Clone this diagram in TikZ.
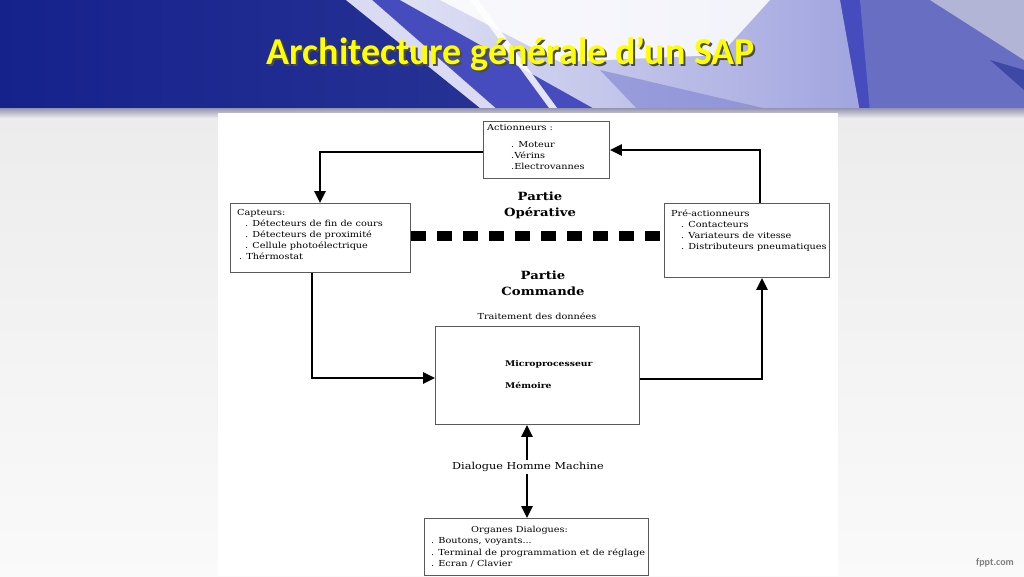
\documentclass[tikz,border=0pt]{standalone}
\usepackage{fontspec}
\setmainfont[FakeStretch=1.17]{DejaVu Serif}
\newfontfamily\titlefont{Carlito}
\usetikzlibrary{arrows.meta}
\definecolor{bandark}{RGB}{22,34,140}
\definecolor{banmid}{RGB}{70,76,190}
\definecolor{banlight}{RGB}{232,233,248}
\definecolor{banright}{RGB}{110,118,196}
\definecolor{titleyellow}{RGB}{255,255,0}
\definecolor{boxline}{RGB}{90,90,90}
\tikzset{
  box/.style={draw=boxline, line width=0.9pt, fill=white},
  flow/.style={line width=2.6pt, -{Triangle[length=12pt,width=11pt]}},
  txt/.style={inner sep=0pt, anchor=north west, align=left, font=\fontsize{8.3}{11}\selectfont},
  bold/.style={inner sep=0pt, align=center, font=\fontsize{11.3}{16}\selectfont\bfseries},
}
\begin{document}
\begin{tikzpicture}[x=1pt,y=-1pt]
\useasboundingbox (0,0) rectangle (1024,576);
% background
\fill[top color=white!85!gray, bottom color=white!96!gray] (0,112) rectangle (1024,576);
% banner
\shade[left color=bandark, right color=bandark!85!white] (0,0) rectangle (1024,112);
\fill[banmid] (346,0) -- (1024,0) -- (1024,112) -- (485,112) -- cycle;
\shade[left color=banlight, right color=banlight!60!banmid, opacity=0.95] (400,0) -- (840,0) -- (860,112) -- (600,112) -- cycle;
\fill[white, opacity=0.85] (440,0) -- (770,0) -- (720,55) -- (560,62) -- cycle;
\fill[banmid!70!white, opacity=0.6] (600,70) -- (780,112) -- (640,112) -- cycle;
\fill[white, opacity=0.8] (346,0) -- (372,0) -- (500,112) -- (485,112) -- cycle;
\fill[white, opacity=0.85] (470,0) -- (478,0) -- (560,112) -- (552,112) -- cycle;
\fill[banright, opacity=0.85] (860,0) -- (1024,0) -- (1024,112) -- (870,112) -- cycle;
\fill[white!80!gray, opacity=0.6] (930,0) -- (1024,0) -- (1024,60) -- cycle;
\fill[bandark, opacity=0.5] (990,60) -- (1024,70) -- (1024,90) -- cycle;
\shade[top color=white!70!blue!40!gray, bottom color=white!85!gray] (0,108) rectangle (1024,118);
% title (with shadow, one node)
\node[font=\titlefont\fontsize{38}{42}\selectfont\bfseries, inner sep=0pt] (title) at (511,55)
  {\makebox[0pt][l]{\hspace{1.8pt}\raisebox{-1.8pt}{\color{black!70}Architecture générale d’un SAP}}\textcolor{titleyellow}{Architecture générale d’un SAP}};
% white panel
\fill[white] (218,113) rectangle (838,576);
% boxes
\node[box, minimum width=126pt, minimum height=57pt, anchor=north west] (act) at (483,121) {};
\node[box, minimum width=180pt, minimum height=69pt, anchor=north west] (capt) at (230,203) {};
\node[box, minimum width=165pt, minimum height=74pt, anchor=north west] (pre) at (664,203) {};
\node[box, minimum width=204pt, minimum height=98pt, anchor=north west] (trait) at (435,326) {};
\node[box, minimum width=224pt, minimum height=57pt, anchor=north west] (org) at (424,518) {};
% box texts
\node[txt] (acttxt) at (487,124) {Actionneurs :\\[6pt]\hspace*{24pt}. Moteur\\\hspace*{24pt}.Vérins\\\hspace*{24pt}.Electrovannes};
\node[txt] (capttxt) at (237,209) {Capteurs:\\\hspace*{8pt}. Détecteurs de fin de cours\\\hspace*{8pt}. Détecteurs de proximité\\\hspace*{8pt}. Cellule photoélectrique\\\hspace*{2pt}. Thérmostat};
\node[txt] (pretxt) at (671,210) {Pré-actionneurs\\\hspace*{10pt}. Contacteurs\\\hspace*{10pt}. Variateurs de vitesse\\\hspace*{10pt}. Distributeurs pneumatiques};
\node[txt, font=\fontsize{8.3}{11.3}\selectfont] (orgtxt) at (431,526) {\hspace*{40pt}Organes Dialogues:\\. Boutons, voyants...\\. Terminal de programmation et de réglage\\. Ecran / Clavier};
\node[inner sep=0pt, font=\fontsize{8.3}{10}\selectfont] (traitlbl) at (537,316) {Traitement des données};
\node[inner sep=0pt, anchor=west, font=\fontsize{7.9}{10}\selectfont\bfseries] (micro) at (505,364) {Microprocesseur};
\node[inner sep=0pt, anchor=west, font=\fontsize{7.9}{10}\selectfont\bfseries] (mem) at (505,385) {Mémoire};
\node[bold] (op) at (540,205) {Partie\\Opérative};
\node[bold] (cmd) at (543,283) {Partie\\Commande};
% connectors
\draw[flow] (act.west |- 0,152) -| (capt.north -| 320,0);
\draw[flow] (pre.north -| 760,0) |- (act.east |- 0,150);
\draw[flow] (capt.south -| 312,0) |- (trait.west |- 0,378);
\draw[flow] (trait.east |- 0,379) -| (pre.south -| 762,0);
\draw[line width=10pt, dash pattern=on 15pt off 11pt] (capt.east |- 0,236) -- (pre.west |- 0,236);
\node[fill=white, inner sep=2pt, font=\fontsize{9.6}{11}\selectfont] (dhm) at (528,467) {Dialogue Homme Machine};
\draw[flow] (dhm.north -| 527,0) -- (trait.south -| 527,0);
\draw[flow] (dhm.south -| 527,0) -- (org.north -| 527,0);
% footer
\node[text=gray, font=\titlefont\fontsize{10}{12}\selectfont\bfseries] (fppt) at (995,563) {fppt.com};
\end{tikzpicture}
\end{document}
